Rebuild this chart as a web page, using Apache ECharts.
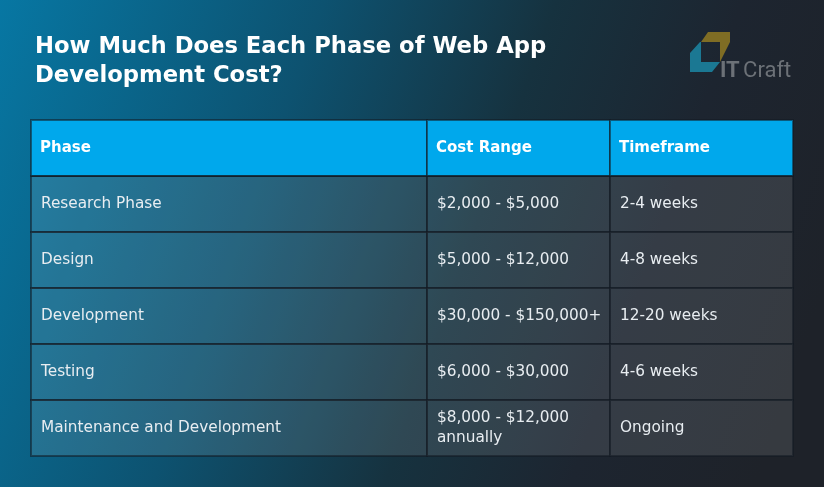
<!DOCTYPE html>
<html>
<head>
<meta charset="utf-8">
<script src="https://cdn.jsdelivr.net/npm/echarts@6/dist/echarts.min.js"></script>
<style>
  html, body { margin: 0; padding: 0; }
  #chart { width: 824px; height: 487px; }
</style>
</head>
<body>
<div id="chart"></div>
<script>
const columns = ['Phase', 'Cost Range', 'Timeframe'];
const phases = ['Research Phase', 'Design', 'Development', 'Testing', 'Maintenance and Development'];
const costRanges = ['$2,000 - $5,000', '$5,000 - $12,000', '$30,000 - $150,000+', '$6,000 - $30,000', '$8,000 - $12,000 annually'];
const timeframes = ['2-4 weeks', '4-8 weeks', '12-20 weeks', '4-6 weeks', 'Ongoing'];

const font = 'DejaVu Sans';
const gap = 'rgba(18, 26, 34, 0.55)';
const colWidths = [396, 183, 183];

// one body cell per phase and column, long text wraps inside the column
const bodyData = [];
phases.forEach((p, i) => {
    [p, costRanges[i], timeframes[i]].forEach((v, c) => {
        bodyData.push({
            coord: [c, i],
            value: v,
            label: { width: colWidths[c] - 4, overflow: 'break' }
        });
    });
});

const chart = echarts.init(document.getElementById('chart'));
chart.setOption({
    backgroundColor: {
        type: 'linear', x: 0, y: 0, x2: 1, y2: 0.6,
        colorStops: [
            { offset: 0, color: '#0777a3' },
            { offset: 0.35, color: '#0d5270' },
            { offset: 0.6, color: '#16323f' },
            { offset: 0.8, color: '#1d2530' },
            { offset: 1, color: '#1e2229' }
        ]
    },
    title: {
        text: 'How Much Does Each Phase of Web App\nDevelopment Cost?',
        left: 35,
        top: 33,
        padding: 0,
        textStyle: {
            color: '#ffffff',
            fontFamily: font,
            fontWeight: 'bold',
            fontSize: 22.7,
            lineHeight: 29
        }
    },
    matrix: {
        left: 31,
        top: 120,
        width: 762,
        height: 336,
        backgroundStyle: { color: 'transparent', borderWidth: 0 },
        x: {
            levelSize: 56,
            data: columns.map((c, i) => ({ value: c, size: colWidths[i] })),
            itemStyle: { color: '#00a8ec', borderColor: gap, borderWidth: 2 },
            dividerLineStyle: { color: gap, width: 2 },
            label: {
                color: '#ffffff',
                fontFamily: font,
                fontWeight: 'bold',
                fontSize: 15,
                position: 'insideLeft',
                distance: 6
            }
        },
        y: {
            show: false,
            data: phases.map(() => ({ value: '', size: 56 }))
        },
        body: {
            data: bodyData,
            itemStyle: { color: 'rgba(255, 255, 255, 0.11)', borderColor: gap, borderWidth: 2 },
            label: {
                color: '#e8edf1',
                fontFamily: font,
                fontSize: 15.3,
                lineHeight: 20,
                position: 'insideLeft',
                distance: 7
            }
        }
    },
    graphic: [
        {
            type: 'polygon',
            shape: { points: [[708, 32], [730, 32], [730, 42], [720, 62], [720, 42], [701, 42]] },
            style: { fill: '#7f6d24' }
        },
        {
            type: 'polygon',
            shape: { points: [[700, 42], [701, 42], [701, 62], [720, 62], [712, 72], [690, 72], [690, 53]] },
            style: { fill: '#1b7893' }
        },
        {
            type: 'text',
            left: 720,
            top: 60,
            style: {
                rich: {
                    b: { fontFamily: 'Roboto', fontWeight: 'bold', fontSize: 22, fill: '#6c7177' },
                    r: { fontFamily: 'Roboto', fontSize: 22, fill: '#6c7177' }
                },
                text: '{b|IT} {r|Craft}'
            }
        }
    ]
});
</script>
</body>
</html>
